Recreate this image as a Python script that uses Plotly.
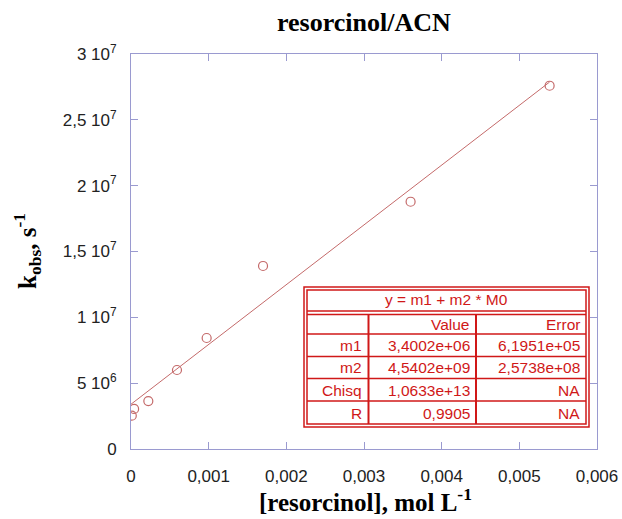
import plotly.graph_objects as go

# ---- data ----
conc = [0.00001, 0.00004, 0.000223, 0.000592, 0.000974, 0.0017, 0.0036, 0.00539]
kobs = [2.53e6, 3.04e6, 3.64e6, 6.0e6, 8.43e6, 1.39e7, 1.878e7, 2.759e7]
m1 = 3.4002e6
m2 = 4.5402e9
fit_x = [0.0, 0.00539]

xtick_vals = [0, 0.001, 0.002, 0.003, 0.004, 0.005, 0.006]
xtick_text = ["0", "0,001", "0,002", "0,003", "0,004", "0,005", "0,006"]
ytick_vals = [0, 5e6, 1e7, 1.5e7, 2e7, 2.5e7, 3e7]
ytick_text = ["0", "5 10<sup>6</sup>", "1 10<sup>7</sup>", "1,5 10<sup>7</sup>",
              "2 10<sup>7</sup>", "2,5 10<sup>7</sup>", "3 10<sup>7</sup>"]

table_header = "y = m1 + m2 * M0"
row_labels = ["", "m1", "m2", "Chisq", "R"]
col_value = ["Value", "3,4002e+06", "4,5402e+09", "1,0633e+13", "0,9905"]
col_error = ["Error", "6,1951e+05", "2,5738e+08", "NA", "NA"]

# ---- figure ----
W, H = 622, 519
L, R, T, B = 131, 597, 54, 449   # plot area in page pixels
red = "#d01818"
mark_col = "#c46a6a"
axis_col = "#9a9ad0"

fig = go.Figure()
fig.add_trace(go.Scatter(
    x=fit_x, y=[m1 + m2 * v for v in fit_x], mode="lines",
    line=dict(color=mark_col, width=1), hoverinfo="skip", showlegend=False))
fig.add_trace(go.Scatter(
    x=conc, y=kobs, mode="markers",
    marker=dict(symbol="circle-open", size=9, color=mark_col, line=dict(width=1.2)),
    showlegend=False))

def px(x):
    return (x - L) / (R - L)

def py(y):
    return (B - y) / (B - T)

shapes = []
def rect(x0, y0, x1, y1, w=1.5):
    shapes.append(dict(type="rect", xref="paper", yref="paper",
                       x0=px(x0), x1=px(x1), y0=py(y0), y1=py(y1),
                       line=dict(color=red, width=w)))
def line(x0, y0, x1, y1, w=1.5):
    shapes.append(dict(type="line", xref="paper", yref="paper",
                       x0=px(x0), x1=px(x1), y0=py(y0), y1=py(y1),
                       line=dict(color=red, width=w)))

tx0, tx1, ty0, ty1 = 304, 589, 287, 427
shapes.append(dict(type="rect", xref="paper", yref="paper",
                   x0=px(tx0), x1=px(tx1), y0=py(ty0), y1=py(ty1),
                   line=dict(color=red, width=1.5), fillcolor="white", layer="above"))
rect(tx0 + 3, ty0 + 3, tx1 - 3, ty1 - 3)
line(tx0 + 3, 311, tx1 - 3, 311)
line(tx0 + 3, 314.5, tx1 - 3, 314.5)
row_lines = [334, 356.5, 378.5, 401]
for yy in row_lines:
    line(tx0 + 3, yy, tx1 - 3, yy)
cols = [368.5, 476]
for xx in cols:
    line(xx, 314.5, xx, ty1 - 3, w=2)

annotations = []
tfont = dict(family="Liberation Sans, Arial, sans-serif", size=15.5, color=red)
annotations.append(dict(xref="paper", yref="paper", x=px((tx0 + tx1) / 2), y=py(299.5),
                        text=table_header, showarrow=False, font=tfont,
                        xanchor="center", yanchor="middle"))
row_centers = [324, 345.5, 367.5, 390, 413.5]
for i, yc in enumerate(row_centers):
    for txt, xr in ((row_labels[i], 364), (col_value[i], 472), (col_error[i], 582)):
        if txt:
            annotations.append(dict(xref="paper", yref="paper", x=px(xr), y=py(yc),
                                    text=txt, showarrow=False, font=tfont,
                                    xanchor="right", yanchor="middle"))

serif = "Liberation Serif, Times New Roman, serif"
annotations.append(dict(xref="paper", yref="paper", x=px(364), y=py(22),
                        text="<b>resorcinol/ACN</b>", showarrow=False,
                        font=dict(family=serif, size=26, color="black"),
                        xanchor="center", yanchor="middle"))
annotations.append(dict(xref="paper", yref="paper", x=px(365), y=py(500),
                        text="<b>[resorcinol], mol L<sup>-1</sup></b>", showarrow=False,
                        font=dict(family=serif, size=25, color="black"),
                        xanchor="center", yanchor="middle"))
annotations.append(dict(xref="paper", yref="paper", x=px(27), y=py(251),
                        text="<b>k<sub>obs</sub>, s<sup>-1</sup></b>", showarrow=False,
                        textangle=-90,
                        font=dict(family=serif, size=25, color="black"),
                        xanchor="center", yanchor="middle"))

sans = "Liberation Sans, Arial, sans-serif"
axis_common = dict(showgrid=False, zeroline=False, showline=True, linecolor=axis_col,
                   linewidth=1, mirror="ticks", ticks="inside", ticklen=7,
                   tickcolor=axis_col, tickwidth=1,
                   tickfont=dict(family=sans, size=17, color="#222222"))

fig.update_layout(
    width=W, height=H,
    margin=dict(l=L, r=W - R, t=T, b=H - B, autoexpand=False),
    paper_bgcolor="white", plot_bgcolor="white",
    xaxis=dict(range=[0, 0.006], tickvals=xtick_vals, ticktext=xtick_text,
               ticklabelstandoff=12, **axis_common),
    yaxis=dict(range=[0, 3e7], tickvals=ytick_vals, ticktext=ytick_text,
               ticklabelstandoff=10, **axis_common),
    shapes=shapes, annotations=annotations,
)
fig.write_html("out.html", config={"displayModeBar": False},
               post_script="document.body.style.margin='0';document.body.style.overflow='hidden';")
